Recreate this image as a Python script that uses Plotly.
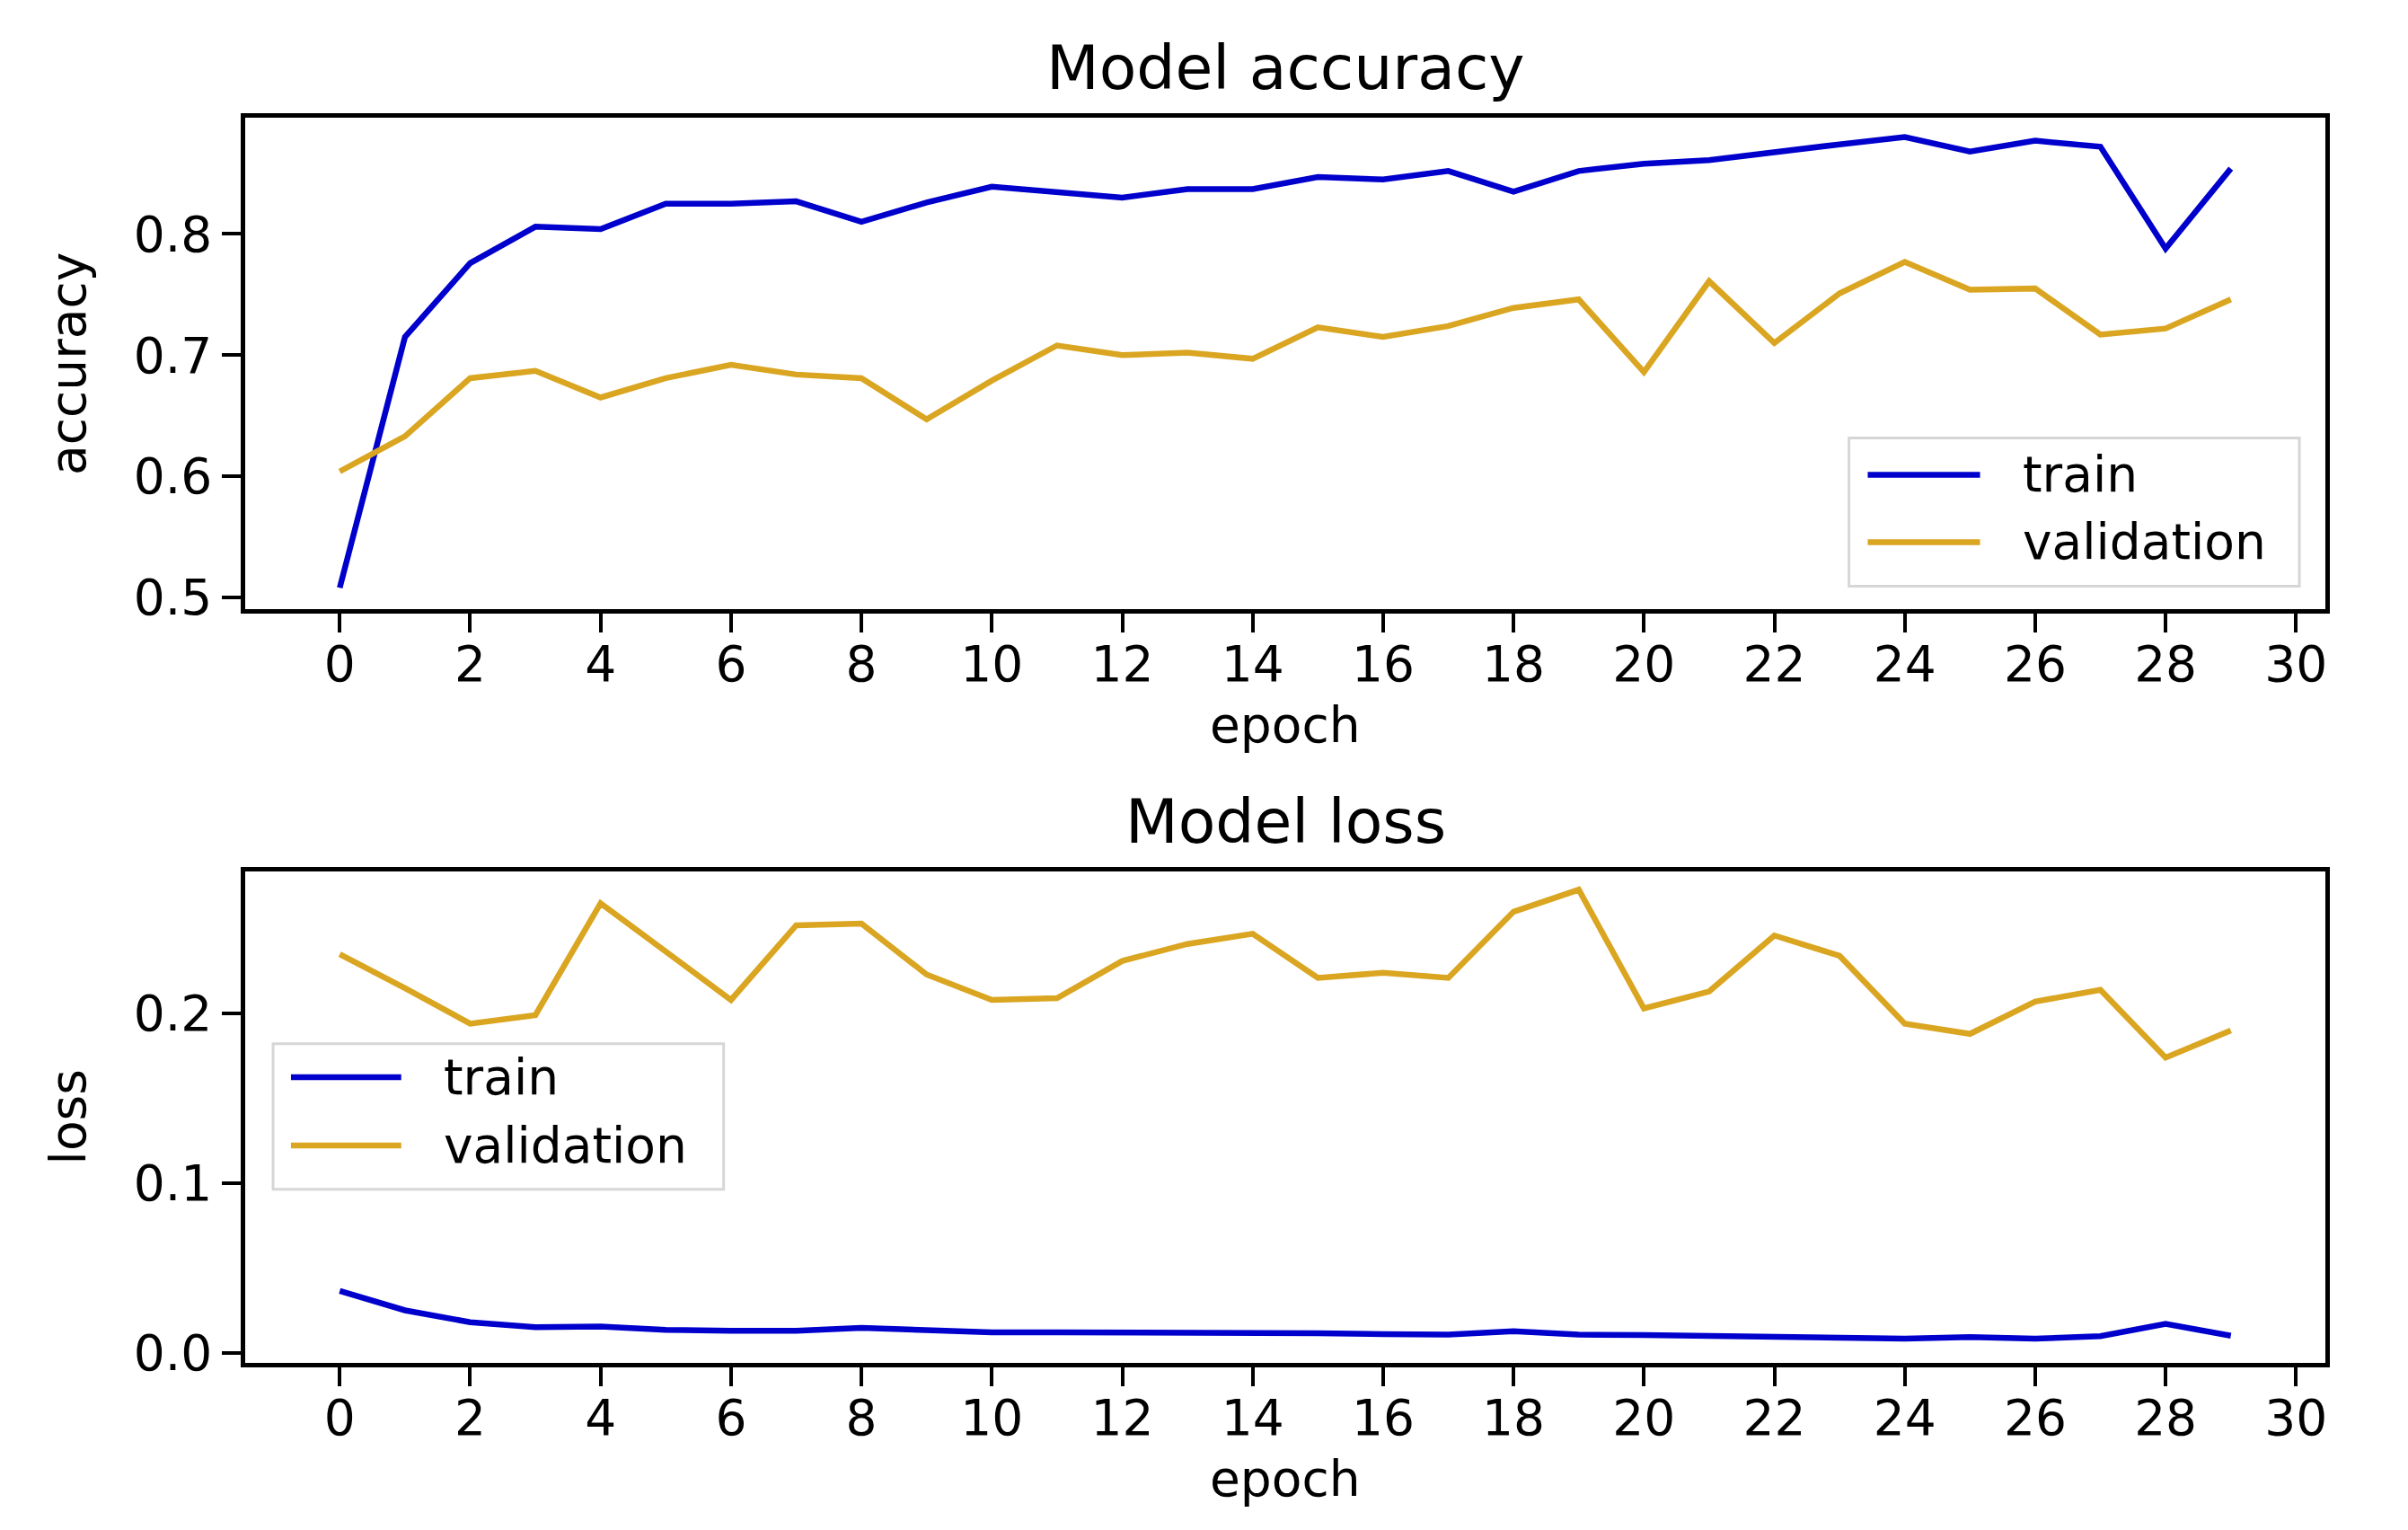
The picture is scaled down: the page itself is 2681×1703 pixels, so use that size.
import plotly.graph_objects as go

################################################################################

epochs = list(range(30))

acc_train = [0.508, 0.715, 0.776, 0.806, 0.804, 0.825, 0.825, 0.827, 0.810, 0.826,
             0.839, 0.834, 0.830, 0.837, 0.837, 0.847, 0.845, 0.852, 0.835, 0.852,
             0.858, 0.861, 0.868, 0.874, 0.880, 0.868, 0.877, 0.872, 0.788, 0.854]
acc_val = [0.604, 0.633, 0.681, 0.687, 0.665, 0.681, 0.692, 0.684, 0.681, 0.647,
           0.679, 0.708, 0.700, 0.702, 0.697, 0.723, 0.715, 0.724, 0.739, 0.746,
           0.686, 0.761, 0.710, 0.751, 0.777, 0.754, 0.755, 0.717, 0.722, 0.746]

loss_train = [0.0365, 0.025, 0.018, 0.015, 0.0155, 0.0135, 0.013, 0.013, 0.0147, 0.013,
              0.012, 0.012, 0.012, 0.012, 0.012, 0.0115, 0.011, 0.0107, 0.0127, 0.0107,
              0.0104, 0.010, 0.0092, 0.0086, 0.0083, 0.0092, 0.0083, 0.0098, 0.017, 0.010]
loss_val = [0.235, 0.215, 0.194, 0.199, 0.265, 0.237, 0.208, 0.252, 0.253, 0.223,
            0.208, 0.209, 0.231, 0.241, 0.247, 0.221, 0.224, 0.221, 0.260, 0.273,
            0.203, 0.213, 0.246, 0.234, 0.194, 0.188, 0.207, 0.214, 0.174, 0.190]

series_names = ["train", "validation"]
series_colors = ["mediumblue", "goldenrod"]
x_ticks = list(range(0, 31, 2))
acc_ticks = [0.5, 0.6, 0.7, 0.8]
loss_ticks = [0.0, 0.1, 0.2]

FONT = "DejaVu Sans"
TXT = 55
TITLE = 68

################################################################################

def _add_legend(fig, xa, ya, box, line_x, text_x, rows):
    # matplotlib style legend box drawn inside a subplot
    xr, yr = xa + " domain", ya + " domain"
    fig.add_shape(type="rect", xref=xr, yref=yr, x0=box[0], x1=box[1], y0=box[2], y1=box[3],
                  line=dict(color="#d6d6d6", width=3), fillcolor="rgba(255,255,255,0.85)", layer="above")
    for name, color, yy in zip(series_names, series_colors, rows):
        fig.add_shape(type="line", xref=xr, yref=yr, x0=line_x[0], x1=line_x[1], y0=yy, y1=yy,
                      line=dict(color=color, width=6.5), layer="above")
        fig.add_annotation(text=name, xref=xr, yref=yr, x=text_x, y=yy, xanchor="left", yanchor="middle",
                           showarrow=False, font=dict(family=FONT, size=TXT, color="black"))

################################################################################

fig = go.Figure()

for vals, name, color in zip([acc_train, acc_val], series_names, series_colors):
    fig.add_trace(go.Scatter(x=epochs, y=vals, name=name, mode="lines",
                             line=dict(color=color, width=6.5), xaxis="x", yaxis="y"))
for vals, name, color in zip([loss_train, loss_val], series_names, series_colors):
    fig.add_trace(go.Scatter(x=epochs, y=vals, name=name, mode="lines",
                             line=dict(color=color, width=6.5), xaxis="x2", yaxis="y2"))

axis_style = dict(showline=True, linecolor="black", linewidth=4.5, mirror=True,
                  ticks="outside", ticklen=21, tickwidth=4, tickcolor="black",
                  showgrid=False, zeroline=False,
                  tickfont=dict(family=FONT, size=TXT, color="black"))

fig.update_layout(
    width=2681, height=1703,
    margin=dict(l=265, r=100, t=123, b=194),
    paper_bgcolor="white", plot_bgcolor="white",
    showlegend=False,
    font=dict(family=FONT, size=TXT, color="black"),
    xaxis=dict(domain=[0, 1], anchor="y", range=[-1.45, 30.45], tickvals=x_ticks,
               ticklabelstandoff=-12, **axis_style),
    yaxis=dict(domain=[0.605, 1], anchor="x", range=[0.49, 0.896], tickvals=acc_ticks,
               tickformat=".1f", **axis_style),
    xaxis2=dict(domain=[0, 1], anchor="y2", range=[-1.45, 30.45], tickvals=x_ticks,
                ticklabelstandoff=-12, **axis_style),
    yaxis2=dict(domain=[0, 0.395], anchor="x2", range=[-0.006, 0.284], tickvals=loss_ticks,
                tickformat=".1f", **axis_style),
)

# titles and axis labels
fig.add_annotation(text="Model accuracy", xref="paper", yref="paper", x=0.5, y=1.0397,
                   yanchor="middle", showarrow=False, font=dict(family=FONT, size=TITLE))
fig.add_annotation(text="Model loss", xref="paper", yref="paper", x=0.5, y=0.435,
                   yanchor="middle", showarrow=False, font=dict(family=FONT, size=TITLE))
for xa, ya, ylab in [("x", "y", "accuracy"), ("x2", "y2", "loss")]:
    fig.add_annotation(text="epoch", xref=xa + " domain", yref=ya + " domain", x=0.5, y=-0.235,
                       yanchor="middle", showarrow=False, font=dict(family=FONT, size=TXT))
    fig.add_annotation(text=ylab, xref=xa + " domain", yref=ya + " domain", x=-0.085, y=0.5,
                       xanchor="center", yanchor="middle", textangle=-90, showarrow=False,
                       font=dict(family=FONT, size=TXT))

_add_legend(fig, "x", "y", box=[0.771, 0.9875, 0.0475, 0.349], line_x=[0.780, 0.834],
            text_x=0.8536, rows=[0.274, 0.137])
_add_legend(fig, "x2", "y2", box=[0.0134, 0.230, 0.353, 0.649], line_x=[0.022, 0.075],
            text_x=0.0945, rows=[0.581, 0.442])

fig.write_html("out.html")
